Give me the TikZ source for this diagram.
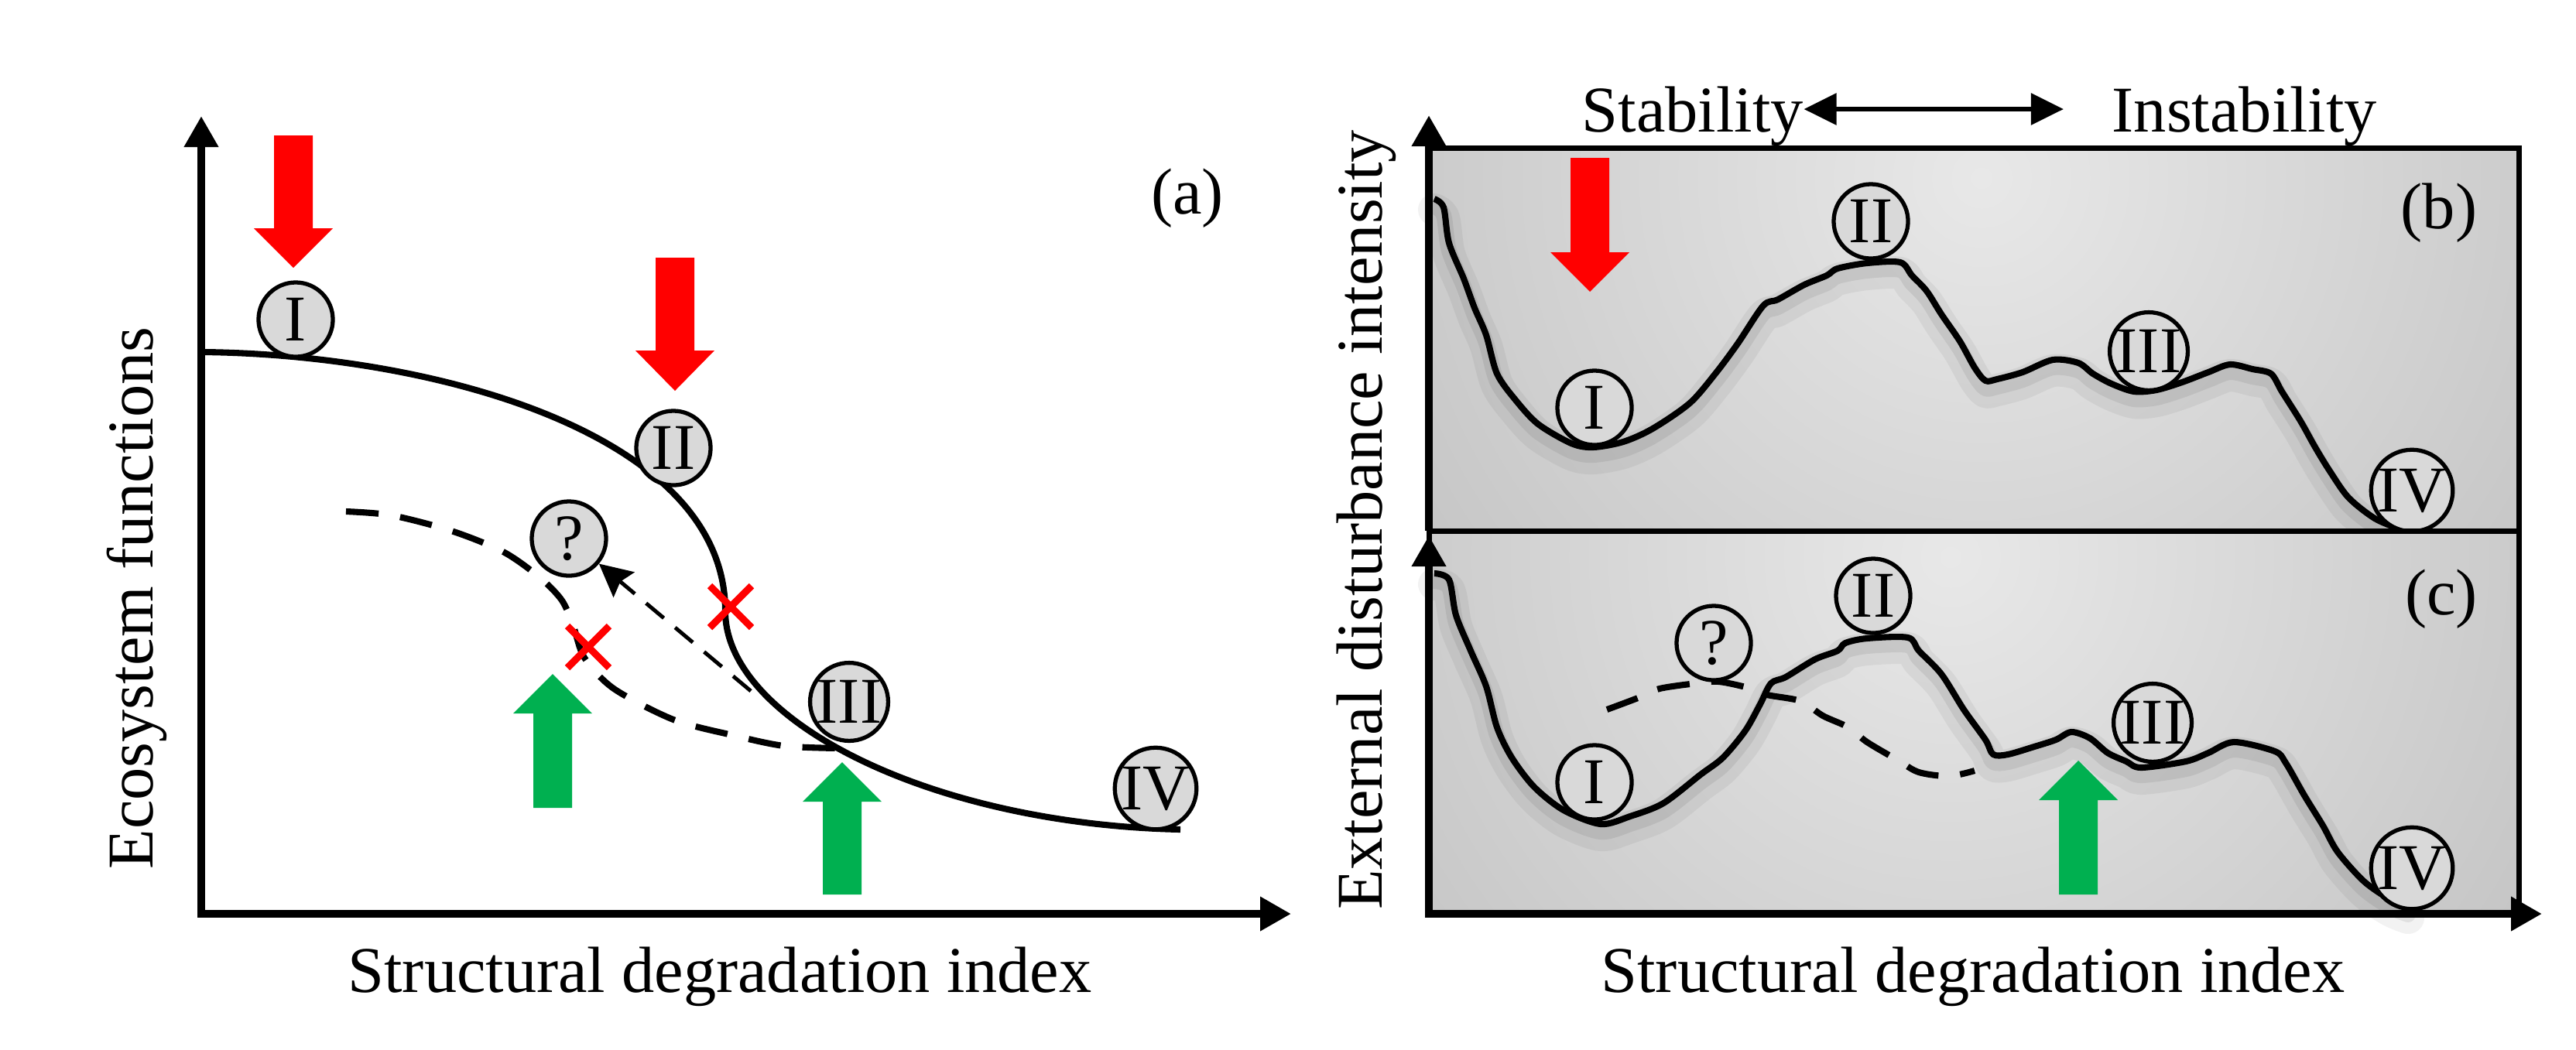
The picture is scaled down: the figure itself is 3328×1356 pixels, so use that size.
\documentclass[tikz,border=0pt]{standalone}
\usepackage{fontspec}
\setmainfont{Liberation Serif}
\usepackage{xcolor}
\usepackage{tikz}
\usetikzlibrary{arrows.meta,positioning,calc}

\definecolor{pushred}{HTML}{FF0000}
\definecolor{helpgreen}{HTML}{00B050}

% block arrow: colour, x, shaft end y, head base y, tip y
\newcommand{\fatarrow}[5]{%
  \fill[#1] (#2-25,#3) -- (#2+25,#3) -- (#2+25,#4) -- (#2+51,#4) -- (#2,#5) -- (#2-51,#4) -- (#2-25,#4) -- cycle;}

% landscape of panel (b)
\newcommand{\ridgeb}[1]{%
  \draw[#1] plot[smooth, tension=0.5] coordinates {(1853,257) (1865,268) (1872,314) (1891,360) (1905,398) (1920,433) (1934,483) (1958,517) (1987,548) (2030,573) (2058,578) (2097,571) (2135,554) (2183,521) (2216,483) (2245,444) (2278,395) (2297,387) (2331,368) (2360,356) (2374,347) (2412,340) (2455,339) (2470,356) (2489,376) (2508,406) (2532,441) (2551,475) (2565,492) (2580,490) (2613,481) (2652,465) (2685,469) (2704,483) (2728,496) (2757,506) (2786,504) (2819,494) (2853,481) (2881,471) (2910,477) (2934,483) (2948,506) (2972,544) (2991,578) (3010,609) (3034,643) (3068,670) (3101,684)};}

% landscape of panel (c)
\newcommand{\ridgec}[1]{%
  \draw[#1] plot[smooth, tension=0.5] coordinates {(1853,741) (1872,749) (1881,795) (1900,841) (1920,887) (1934,940) (1953,979) (1982,1017) (2020,1047) (2068,1065) (2106,1055) (2149,1038) (2197,1001) (2226,979) (2255,944) (2274,910) (2288,883) (2307,875) (2345,852) (2374,841) (2384,831) (2412,825) (2465,824) (2479,841) (2508,871) (2537,917) (2565,956) (2575,975) (2594,975) (2628,965) (2656,956) (2676,946) (2700,954) (2723,973) (2747,984) (2766,992) (2824,984) (2853,973) (2886,959) (2939,971) (2953,986) (2977,1028) (3001,1067) (3020,1101) (3054,1139) (3087,1162) (3111,1172)};}

\begin{document}
\begin{tikzpicture}[x=0.01cm, y=-0.01cm,
    font=\fontsize{24pt}{28pt}\selectfont,
    phase/.style={draw, circle, line width=1.5pt, fill=black!15, minimum size=0.96cm, inner sep=0pt},
    axis/.style={line width=3pt, -{Triangle[length=0.4cm, width=0.42cm]}},
    axes/.style={line width=3pt, {Triangle[length=0.4cm, width=0.42cm]}-{Triangle[length=0.4cm, width=0.42cm]}},
    curve/.style={line width=2.3pt, line join=round},
    pathdash/.style={line width=2.3pt, dash pattern=on 12pt off 8pt},
    thinarrow/.style={line width=1.4pt, dash pattern=on 8.5pt off 5.4pt, -{Stealth[length=0.42cm, width=0.42cm, inset=0.06cm]}},
    dblarrow/.style={line width=1.7pt, {Triangle[length=0.42cm, width=0.4cm]}-{Triangle[length=0.42cm, width=0.4cm]}},
    softshadow/.style={line width=0.42cm, black, opacity=0.05, line join=round, line cap=round},
    coreshadow/.style={line width=0.2cm, black, opacity=0.07, line join=round, line cap=round},
    redx/.pic={\draw[pushred, line width=2.6pt] (-27,-27) -- (27,27) (-27,27) -- (27,-27);}]

    \fill[white] (0,0) rectangle (3328,1356);
    \useasboundingbox (0,0) rectangle (3328,1356);

    % Panel (a)
    \coordinate (atop) at (260,150);
    \coordinate (aorig) at (260,1181);
    \coordinate (aright) at (1668,1181);
    \draw[axes] (atop) -- (aorig) -- (aright);

    \draw[curve] (262,455) .. controls (560,458) and (937,560) .. (937,790)
                 .. controls (937,930) and (1200,1065) .. (1525,1072);
    \draw[pathdash] plot[smooth, tension=0.5] coordinates {(447,661) (506,666) (583,686) (650,713) (697,746) (726,776) (741,810) (755,850) (793,890) (870,930) (946,950) (1013,964) (1085,967)};

    \node [phase] (aI) at (382,413) {I};
    \node [phase] (aII) at (870,579) {II};
    \node [phase] (aQ) at (735,696) {?};
    \node [phase] (aIII) at (1097,907) {III};
    \node [phase] (aIV) at (1493,1019) {IV};

    \coordinate (qstart) at (970,893);
    \draw[thinarrow] (qstart) -- (aQ);

    \pic at (944,784) {redx};
    \pic at (760,836) {redx};

    \fatarrow{pushred}{379}{175}{295}{346}
    \fatarrow{pushred}{872}{333}{453}{505}
    \fatarrow{helpgreen}{714}{1044}{922}{871}
    \fatarrow{helpgreen}{1088}{1156}{1036}{985}

    \node [anchor=base] (tagA) at (1534,276) {(a)};
    \node [rotate=90, anchor=base] (ylabA) at (197,773) {Ecosystem functions};
    \node [anchor=base] (xlabA) at (930,1282) {Structural degradation index};

    % Panel (b)
    \begin{scope}
        \clip (1846,191) rectangle (3254,686);
        \shade[inner color=black!9, outer color=black!37] (2560,230) circle (18cm);
    \end{scope}
    \draw[line width=2pt] (1846,191) rectangle (3254,686);

    \ridgeb{softshadow, yshift=-0.14cm}
    \ridgeb{coreshadow, yshift=-0.1cm}
    \ridgeb{curve}

    \node [phase] (bI) at (2060,527) {I};
    \node [phase] (bII) at (2417,286) {II};
    \node [phase] (bIII) at (2776,454) {III};
    \node [phase] (bIV) at (3116,634) {IV};

    \fatarrow{pushred}{2054}{204}{326}{377}
    \node [anchor=base] (tagB) at (3151,295) {(b)};

    % Panel (c)
    \begin{scope}
        \clip (1846,686) rectangle (3254,1181);
        \shade[inner color=black!9, outer color=black!37] (2520,720) circle (18cm);
    \end{scope}
    \draw[line width=2pt] (1846,686) rectangle (3254,1181);

    \ridgec{softshadow, yshift=-0.14cm}
    \ridgec{coreshadow, yshift=-0.1cm}
    \ridgec{curve}
    \draw[pathdash] plot[smooth, tension=0.5] coordinates {(2076,917) (2116,902) (2144,890) (2192,883) (2221,881) (2259,889) (2283,898) (2326,906) (2355,925) (2388,940) (2412,959) (2451,982) (2479,998) (2518,1003) (2551,996)};

    \node [phase] (cI) at (2060,1011) {I};
    \node [phase] (cQ) at (2214,831) {?};
    \node [phase] (cII) at (2420,770) {II};
    \node [phase] (cIII) at (2781,934) {III};
    \node [phase] (cIV) at (3116,1122) {IV};

    \fatarrow{helpgreen}{2685}{1156}{1034}{983}
    \node [anchor=base] (tagC) at (3154,794) {(c)};

    % axes of (b) and (c)
    \coordinate (bbot) at (1846,686);
    \coordinate (btop) at (1846,149);
    \coordinate (ctop) at (1846,692);
    \coordinate (corig) at (1846,1181);
    \coordinate (cright) at (3284,1181);
    \draw[axis] (bbot) -- (btop);
    \draw[axes] (ctop) -- (corig) -- (cright);

    \node [rotate=90, anchor=base] (ylabB) at (1785,672) {External disturbance intensity};
    \node [anchor=base] (xlabB) at (2549,1282) {Structural degradation index};

    \node [anchor=base west, inner sep=0pt] (stab) at (2043,170) {Stability};
    \node [anchor=base west, inner sep=0pt] (instab) at (2728,170) {Instability};
    \draw[dblarrow] ([yshift=0.29cm]stab.base east) -- ([yshift=0.29cm, xshift=-0.62cm]instab.base west);
\end{tikzpicture}
\end{document}
